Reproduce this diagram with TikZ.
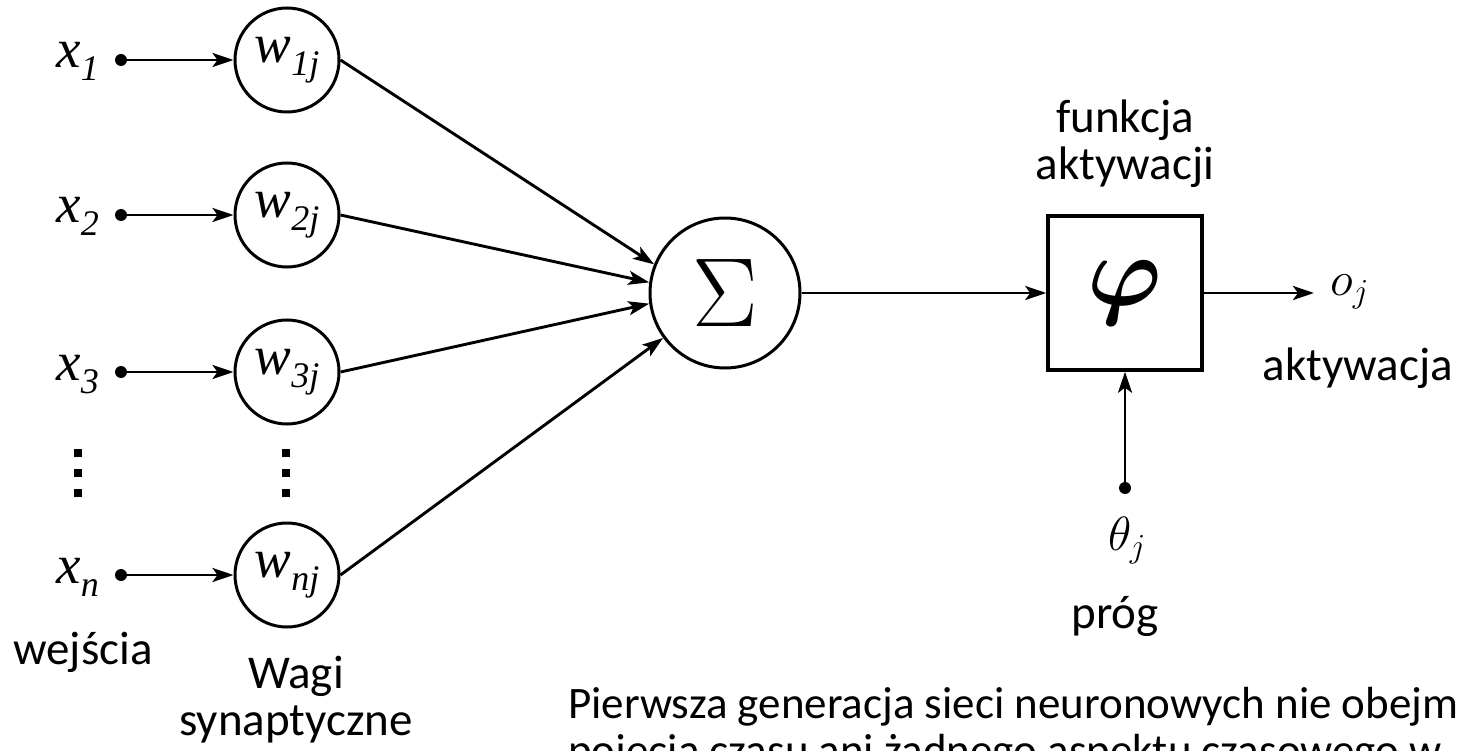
\RequirePackage{fix-cm}
\documentclass[tikz,border=0pt]{standalone}
\usepackage{amsmath}
\usepackage{fontspec}
\setmainfont{Carlito}
\newfontfamily\tms{Liberation Serif}
\usetikzlibrary{arrows.meta}

\newcommand\tvar[2]{{\tms\itshape\fontsize{55}{55}\selectfont #1\raisebox{-13pt}{\fontsize{36}{36}\selectfont #2}}}

\begin{document}
\begin{tikzpicture}[x=1pt, y=-1pt,
  lbl/.style={inner sep=0pt, font=\fontsize{47}{47}\selectfont, align=center},
  dot/.style={circle, fill, inner sep=0pt, minimum size=12pt},
  wgt/.style={circle, draw, line width=3pt, minimum size=104pt, inner sep=0pt},
  sumc/.style={circle, draw, line width=3pt, minimum size=150pt, inner sep=0pt},
  actbox/.style={rectangle, draw, line width=3.5pt, minimum size=154pt, inner sep=0pt},
  arr/.style={-{Stealth[length=21pt, width=14pt, inset=5pt]}, line width=2.9pt},
]
\useasboundingbox (0,0) rectangle (1458,751);
\clip (0,0) rectangle (1458,751);

% inputs and weights
\foreach \i/\s/\y in {1/1/60, 2/2/215, 3/3/372, n/n/575} {
  \node[inner sep=0pt, anchor=base east] (x\i) at (99,\y+8) {\tvar{x}{\s}};
  \node[dot] (d\i) at (121,\y) {};
  \node[wgt] (w\i) at (287,\y) {\tvar{w}{\s j}};
  \draw[arr] (d\i) -- (w\i);
}
\foreach \y in {453,473,493} {
  \fill (74,\y-4) rectangle (82,\y+4);
  \fill (282,\y-4) rectangle (290,\y+4);
}

\node[sumc, font=\fontsize{98}{98}\selectfont] (sum) at (725,293) {$\Sigma$};
\node[actbox, font=\fontsize{100}{100}\selectfont] (phi) at (1125,293) {$\boldsymbol{\varphi}$};
\draw[arr] (w1.east) -- (sum.158);
\draw[arr] (w2.east) -- (sum.172);
\draw[arr] (w3.east) -- (sum.188);
\draw[arr] (wn.east) -- (sum.216);
\draw[arr] (sum) -- (phi);

% output and threshold
\coordinate (out) at (1314,293);
\draw[arr] (phi) -- (out);
\node[inner sep=0pt, anchor=base west, font=\fontsize{48}{48}\selectfont] (oj) at (1330,295) {$o_j$};
\node[dot] (th) at (1125,488) {};
\draw[arr] (th) -- (phi);
\node[inner sep=0pt, anchor=base, font=\fontsize{48}{48}\selectfont] (thj) at (1127,550) {$\theta_j$};

% labels
\node[lbl, anchor=base] (fa) at (1125,180) {funkcja\\aktywacji};
\node[lbl, anchor=base] (akt) at (1358,380) {aktywacja};
\node[lbl, anchor=base] (prog) at (1115,628) {próg};
\node[lbl, anchor=base] (wej) at (83,664) {wejścia};
\node[lbl, anchor=base] (wagi) at (296,735) {Wagi\\synaptyczne};
\node[lbl, anchor=base west, align=left, font=\fontsize{45}{47}\selectfont] (note) at (568,765)
  {Pierwsza generacja sieci neuronowych nie obejmuje\\pojęcia czasu ani żadnego aspektu czasowego w};
\end{tikzpicture}
\end{document}
